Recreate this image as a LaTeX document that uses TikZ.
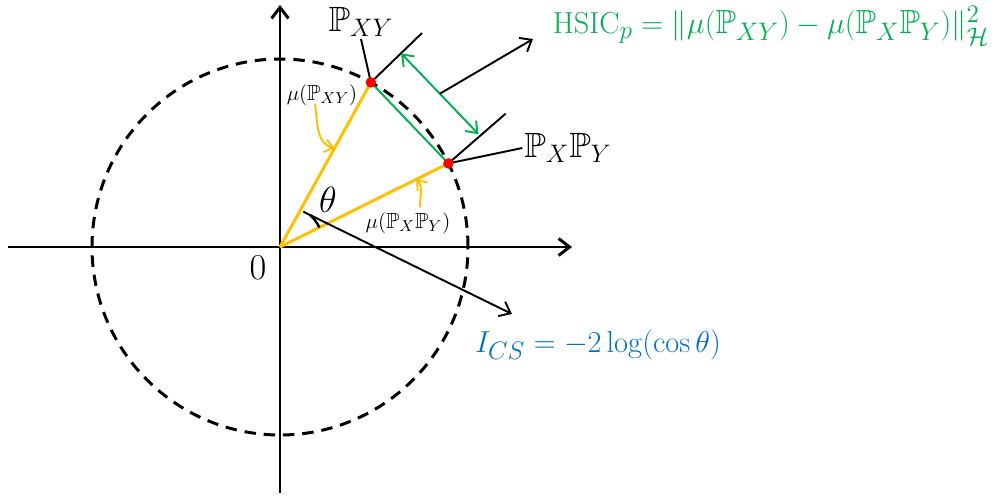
\documentclass[tikz,border=0pt]{standalone}
\usepackage{amsmath,amssymb}
\usetikzlibrary{arrows.meta,positioning,calc}
\definecolor{vecorange}{HTML}{FFC000}
\definecolor{hsicgreen}{HTML}{00B050}
\definecolor{csblue}{HTML}{0070C0}
\tikzset{
axisline/.style={
  line width=1.7pt,
  -{Straight Barb[length=2.2mm,width=3.4mm,line width=1.7pt]}
},
unitcircle/.style={
  line width=1.7pt,
  dash pattern=on 6.5pt off 4.5pt
},
vecline/.style={
  line width=1.7pt,
  draw=vecorange
},
chordline/.style={
  line width=1.1pt,
  draw=hsicgreen
},
dimarrow/.style={
  line width=1.1pt,
  draw=hsicgreen,
  {Straight Barb[length=2mm,width=3mm]}-{Straight Barb[length=2mm,width=3mm]}
},
thinline/.style={
  line width=1.1pt,
  draw=black
},
leadarrow/.style={
  thinline,
  -{Straight Barb[length=2mm,width=3.2mm]}
},
curlarrow/.style={
  line width=1.1pt,
  draw=vecorange,
  -{Straight Barb[length=1.6mm,width=2.6mm]}
},
reddot/.style={
  circle,
  fill=red,
  inner sep=0pt,
  minimum size=2.1mm
},
biglabel/.style={
  inner sep=1pt,
  font=\fontsize{20}{24}\selectfont
},
eqlabel/.style={
  inner sep=1pt,
  font=\fontsize{19}{22}\selectfont
},
smalllabel/.style={
  inner sep=1pt,
  font=\fontsize{12.5}{15}\selectfont
}
}

\begin{document}
\begin{tikzpicture}[x=0.02cm,y=0.02cm]
\useasboundingbox (-280,-253) rectangle (725,247);

% axes and unit circle
\coordinate (O) at (0,0);
\coordinate (xleft) at (-272,0);
\coordinate (xright) at (292,0);
\coordinate (ybottom) at (0,-246);
\coordinate (ytop) at (0,242);
\draw[axisline] (xleft) -- (xright);
\draw[axisline] (ybottom) -- (ytop);
\draw[unitcircle] (O) circle[radius=188];
\node[biglabel] (zero) at (-22,-21) {$0$};

% embeddings
\coordinate (Pxy) at (61.1:188);
\coordinate (Pprod) at (26.4:188);
\draw[vecline] (O) -- (Pxy);
\draw[vecline] (O) -- (Pprod);
\draw[chordline] (Pxy) -- (Pprod);

% extension lines and HSIC distance
\coordinate (extxy) at ($(Pxy)+(44:71)$);
\coordinate (extprod) at ($(Pprod)+(41:76)$);
\draw[thinline] (Pxy) -- (extxy);
\draw[thinline] (Pprod) -- (extprod);
\coordinate (dimxy) at ($(Pxy)+(44:42)$);
\coordinate (dimprod) at ($(Pprod)+(44:42)$);
\draw[dimarrow] (dimxy) -- (dimprod);
\coordinate (dimmid) at ($(dimxy)!0.5!(dimprod)$);

\node[eqlabel, text=hsicgreen] (hsic) at (491,221)
  {$\mathrm{HSIC}_p=\lVert\mu(\mathbb{P}_{XY})-\mu(\mathbb{P}_X\mathbb{P}_Y)\rVert^2_{\mathcal{H}}$};
\coordinate (hsicend) at (253,208);
\draw[leadarrow] (dimmid) -- (hsicend);

% point labels
\node[biglabel] (labxy) at (81,225) {$\mathbb{P}_{XY}$};
\node[biglabel] (labprod) at (288,99) {$\mathbb{P}_X\mathbb{P}_Y$};
\draw[thinline] (Pxy) -- (labxy.south);
\draw[thinline] (Pprod) -- (labprod.west);
\node[reddot] (dotxy) at (Pxy) {};
\node[reddot] (dotprod) at (Pprod) {};

% vector labels
\node[smalllabel] (muxy) at (42,152) {$\mu(\mathbb{P}_{XY})$};
\node[smalllabel] (muprod) at (128,24) {$\mu(\mathbb{P}_X\mathbb{P}_Y)$};
\coordinate (curlxy) at ($(O)!0.6!(Pxy)$);
\coordinate (curlprod) at ($(O)!0.81!(Pprod)$);
\draw[curlarrow] ($(muxy.south)+(-7,4)$) to[out=-82,in=165] (curlxy);
\draw[curlarrow] ($(muprod.north)+(12,3)$) to[out=92,in=-50] (curlprod);

% angle and Cauchy-Schwarz
\node[biglabel] (theta) at (48,47) {$\theta$};
\draw[line width=1.4pt] (26.4:44) arc[start angle=26.4, end angle=47, radius=44];
\coordinate (anglestart) at (56.6:42.3);
\node[eqlabel, text=csblue] (ics) at (318,-98) {$I_{CS}=-2\log(\cos\theta)$};
\coordinate (icsend) at (232,-67);
\draw[leadarrow] (anglestart) -- (icsend);

\end{tikzpicture}
\end{document}
